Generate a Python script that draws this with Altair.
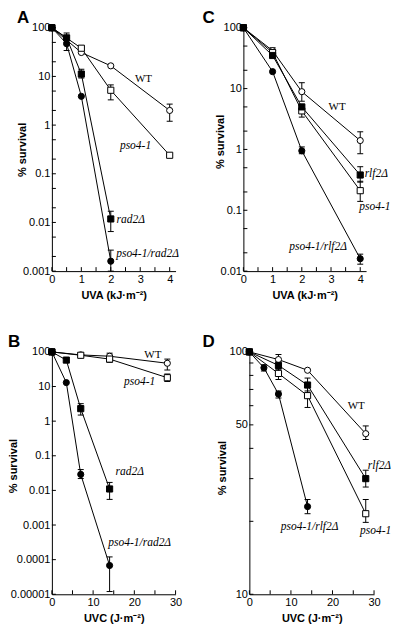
import altair as alt
import pandas as pd

# ---------------- data ----------------
A_names = ["WT", "pso4-1", "rad2Δ", "pso4-1/rad2Δ"]
A_x = [[0, 1, 2, 4], [0, 1, 2, 4], [0, 0.5, 1, 2], [0, 0.5, 1, 2]]
A_y = [[100, 31, 16.5, 2.0], [100, 38, 5.2, 0.24], [100, 62, 11.2, 0.0118], [100, 47, 3.9, 0.0016]]
A_lo = [[None, None, None, 1.2], [None, 34, 3.3, None], [None, 50, 9.3, 0.0065], [None, 34, None, 0.001]]
A_hi = [[None, None, None, 2.7], [None, 42, 6.7, None], [None, 78, 14, 0.017], [None, 62, None, 0.0027]]
A_lab = ["WT", "pso4-1", "rad2Δ", "pso4-1/rad2Δ"]
A_lab_x = [3.11, 2.84, 2.68, 3.25]
A_lab_y = [9.0, 0.38, 0.011, 0.0022]

C_names = ["WT", "pso4-1", "rlf2Δ", "pso4-1/rlf2Δ"]
C_x = [[0, 1, 2, 4], [0, 1, 2, 4], [0, 1, 2, 4], [0, 1, 2, 4]]
C_y = [[100, 42, 8.9, 1.4], [100, 39, 4.3, 0.21], [100, 35, 5.0, 0.38], [100, 19, 0.95, 0.016]]
C_lo = [[None, 37, 6.2, 0.85], [None, None, 3.4, 0.14], [None, None, None, 0.29], [None, None, 0.85, 0.013]]
C_hi = [[None, 47, 12.5, 1.95], [None, None, 5.2, 0.30], [None, None, None, 0.52], [None, None, 1.1, 0.019]]
C_lab = ["WT", "rlf2Δ", "pso4-1", "pso4-1/rlf2Δ"]
C_lab_x = [3.21, 4.55, 4.5, 2.56]
C_lab_y = [4.9, 0.40, 0.112, 0.0245]

B_names = ["WT", "pso4-1", "rad2Δ", "pso4-1/rad2Δ"]
B_x = [[0, 7, 14, 28], [0, 7, 14, 28], [0, 3.5, 7, 14], [0, 3.5, 7, 14]]
B_y = [[100, 82, 75, 47], [100, 80, 62, 18], [100, 58, 2.3, 0.011], [100, 13, 0.029, 0.000068]]
B_lo = [[None, 68, 62, 30], [None, None, 50, 14], [None, None, 1.5, 0.0055], [None, None, 0.022, 0.000012]]
B_hi = [[None, 95, 92, 62], [None, None, 72, 23], [None, None, 3.2, 0.017], [None, None, 0.04, 0.00012]]
B_lab = ["WT", "pso4-1", "rad2Δ", "pso4-1/rad2Δ"]
B_lab_x = [24.5, 21.3, 18.9, 21.3]
B_lab_y = [82, 13.9, 0.035, 0.00031]

D_names = ["WT", "pso4-1", "rlf2Δ", "pso4-1/rlf2Δ"]
D_x = [[0, 7, 14, 28], [0, 7, 14, 28], [0, 7, 14, 28], [0, 3.5, 7, 14]]
D_y = [[100, 93, 84, 46], [100, 81.5, 66, 21.5], [100, 88, 73, 30], [100, 86, 67, 23]]
D_lo = [[None, 88, None, 43.5], [None, 77, 59, 19.8], [None, 85, 69, 27.7], [None, 83.5, 64.5, 21.5]]
D_hi = [[None, 97.5, None, 49.5], [None, 85, 74, 24.6], [None, 91, 78, 32.5], [None, 88.5, 69, 24.6]]
D_lab = ["WT", "rlf2Δ", "pso4-1", "pso4-1/rlf2Δ"]
D_lab_x = [25.7, 31.3, 30.4, 14.5]
D_lab_y = [60, 33.8, 18.2, 19.0]

KINDS = ["open circle", "open square", "filled square", "filled circle"]
SHAPES = ["circle", "square", "square", "circle"]
FILLS = ["white", "white", "black", "black"]

SANS = "Liberation Sans"
SERIF = "Liberation Serif"


def panel(names, xs, ys, los, his, labs, lab_x, lab_y, letter,
          xdom, xlabels, xticks, xtitle, ydom, ylabels, yticks,
          w, h, letter_x, letter_y, title_x, title_y):
    rows, erows = [], []
    for k, n, xx, yy, lo, hi in zip(KINDS, names, xs, ys, los, his):
        for a, b, l, u in zip(xx, yy, lo, hi):
            rows.append({"series": n, "kind": k, "dose": a, "surv": b})
            if l is not None:
                erows.append({"series": n, "dose": a, "lo": l, "hi": u})
    df = pd.DataFrame(rows)
    edf = pd.DataFrame(erows)
    ldf = pd.DataFrame({"text": labs, "x": lab_x, "y": lab_y})

    xs_ = alt.Scale(domain=xdom, nice=False, zero=False)
    ys_ = alt.Scale(type="log", domain=ydom, nice=False)

    xaxis = alt.Axis(values=xlabels, title=xtitle, grid=False, ticks=False,
                     labelPadding=2, titlePadding=5, labelFlush=False)
    yaxis = alt.Axis(values=ylabels, title="% survival", grid=False, ticks=False,
                     labelPadding=2, format=".5~f", titleX=title_x, titleY=title_y,
                     labelFlush=False)

    def X(f):
        return alt.X(f"{f}:Q", scale=xs_, axis=xaxis)

    def Y(f):
        return alt.Y(f"{f}:Q", scale=ys_, axis=yaxis)

    lines = alt.Chart(df).mark_line(color="black", strokeWidth=1).encode(
        x=X("dose"), y=Y("surv"), detail="series:N")
    ebar = alt.Chart(edf).mark_rule(color="black", strokeWidth=1).encode(
        x=X("dose"), y=Y("lo"), y2="hi:Q")
    cap_lo = alt.Chart(edf).mark_tick(color="black", orient="horizontal",
                                      size=6, thickness=1, opacity=1).encode(
        x=X("dose"), y=Y("lo"))
    cap_hi = alt.Chart(edf).mark_tick(color="black", orient="horizontal",
                                      size=6, thickness=1, opacity=1).encode(
        x=X("dose"), y=Y("hi"))
    pts = alt.Chart(df).mark_point(stroke="black", strokeWidth=1, opacity=1,
                                   fillOpacity=1, size=38).encode(
        x=X("dose"), y=Y("surv"),
        shape=alt.Shape("kind:N", scale=alt.Scale(domain=KINDS, range=SHAPES), legend=None),
        fill=alt.Fill("kind:N", scale=alt.Scale(domain=KINDS, range=FILLS), legend=None),
    )
    ytk = alt.Chart(pd.DataFrame({"t": yticks})).mark_rule(color="black").encode(
        y=Y("t"), x=alt.value(0), x2=alt.value(4))
    xtk = alt.Chart(pd.DataFrame({"t": xticks})).mark_rule(color="black").encode(
        x=X("t"), y=alt.value(h), y2=alt.value(h - 4))
    wt = alt.Chart(ldf[ldf.text == "WT"]).mark_text(
        font=SERIF, fontSize=11, color="black", baseline="middle").encode(
        x=X("x"), y=Y("y"), text="text:N")
    it = alt.Chart(ldf[ldf.text != "WT"]).mark_text(
        font=SERIF, fontSize=11.5, fontStyle="italic", color="black", baseline="middle").encode(
        x=X("x"), y=Y("y"), text="text:N")
    let = alt.Chart(pd.DataFrame({"t": [letter]})).mark_text(
        font=SANS, fontSize=17, fontWeight="bold", color="black", align="left",
        baseline="alphabetic").encode(text="t:N", x=alt.value(letter_x), y=alt.value(letter_y))
    return alt.layer(lines, ebar, cap_lo, cap_hi, pts, ytk, xtk, wt, it, let).properties(width=w, height=h)


def decades(lo_exp, hi_exp, mults):
    out = []
    for e in range(lo_exp, hi_exp + 1):
        for m in mults:
            v = m * 10.0 ** e
            out.append(float(f"{v:.10g}"))
    return out

uva_ticks = [0, 0.5, 1, 1.5, 2, 2.5, 3, 3.5, 4]
uvc_ticks = [0, 5, 10, 15, 20, 25, 30]

pA = panel(A_names, A_x, A_y, A_lo, A_hi, A_lab, A_lab_x, A_lab_y, "A",
           [0, 4.2], [0, 1, 2, 3, 4], uva_ticks, "UVA (kJ·m⁻²)",
           [0.001, 100], [0.001, 0.01, 0.1, 1, 10, 100],
           [v for v in decades(-3, 2, [1, 2, 5]) if v <= 100],
           124, 244, -35, -5, -24, 122)
pC = panel(C_names, C_x, C_y, C_lo, C_hi, C_lab, C_lab_x, C_lab_y, "C",
           [0, 4.2], [0, 1, 2, 3, 4], uva_ticks, "UVA (kJ·m⁻²)",
           [0.01, 100], [0.01, 0.1, 1, 10, 100],
           [v for v in decades(-2, 2, [1, 2, 5]) if v <= 100],
           123, 244, -41, -5, -18, 114)
pB = panel(B_names, B_x, B_y, B_lo, B_hi, B_lab, B_lab_x, B_lab_y, "B",
           [0, 30], [0, 10, 20, 30], uvc_ticks, "UVC (J·m⁻²)",
           [0.00001, 100], [0.00001, 0.0001, 0.001, 0.01, 0.1, 1, 10, 100],
           [0.00001, 0.0001, 0.001, 0.01, 0.1, 1, 10, 100],
           124, 243, -44, -5, -33, 114)
pD = panel(D_names, D_x, D_y, D_lo, D_hi, D_lab, D_lab_x, D_lab_y, "D",
           [0, 30], [0, 10, 20, 30], uvc_ticks, "UVC (J·m⁻²)",
           [10, 100], [10, 50, 100],
           [10, 20, 30, 40, 50, 60, 70, 80, 90, 100],
           125, 243, -47, -5, -22, 116)

chart = alt.vconcat(
    alt.hconcat(pA, pC, spacing=23),
    alt.hconcat(pB, pD, spacing=20),
    spacing=33,
).properties(background="white", padding=0).configure_view(stroke=None).configure_axis(
    labelFont=SANS, labelFontSize=11, labelColor="black",
    titleFont=SANS, titleFontSize=11, titleFontWeight="bold", titleColor="black",
    domainColor="black", domainWidth=1,
)

chart.save("out.html", embed_options={"renderer": "svg", "actions": False})
